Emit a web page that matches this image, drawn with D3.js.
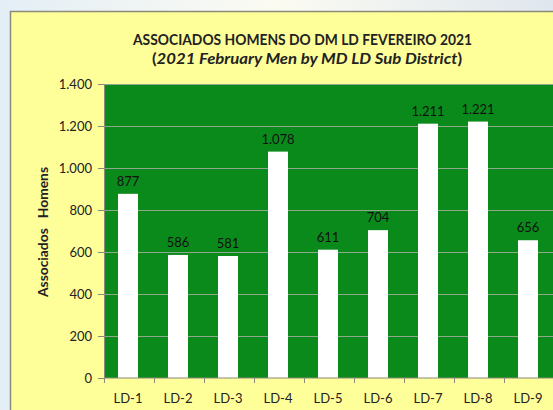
<!DOCTYPE html>
<html>
<head>
<meta charset="utf-8">
<script src="https://cdn.jsdelivr.net/npm/d3@7"></script>
<style>
  html, body { margin: 0; padding: 0; background: #eef3f6; }
  svg { display: block; }
</style>
</head>
<body>
<svg id="chart" width="553" height="410"></svg>
<script>
/*
Data
*/
const categories = ["LD-1", "LD-2", "LD-3", "LD-4", "LD-5", "LD-6", "LD-7", "LD-8", "LD-9"];
const members    = [877, 586, 581, 1078, 611, 704, 1211, 1221, 656];
const yTicks     = [0, 200, 400, 600, 800, 1000, 1200, 1400];

const width  = 553;
const height = 410;
const margin = { top: 84, right: -1, bottom: 32, left: 104 };

const fontFam = "Lato, 'Open Sans', sans-serif";
const fmt = d => d3.format(",")(d).replace(/,/g, ".");

const svg = d3.select("#chart")
  .attr("viewBox", "0 0 " + width + " " + height);

// backdrop behind the chart frame
const bg = svg.append("defs").append("linearGradient")
  .attr("id", "bg").attr("x1", 0).attr("x2", 1).attr("y1", 0).attr("y2", 0);
bg.append("stop").attr("offset", "0%").attr("stop-color", "#e4eef6");
bg.append("stop").attr("offset", "50%").attr("stop-color", "#fbfbf2");
bg.append("stop").attr("offset", "100%").attr("stop-color", "#dfe6ee");
svg.append("rect").attr("width", width).attr("height", height).attr("fill", "url(#bg)");

// chart frame
svg.append("rect")
  .attr("x", 10.5).attr("y", 11.5)
  .attr("width", width + 10).attr("height", height + 10)
  .attr("fill", "#ffff99")
  .attr("stroke", "#8a8a7a")
  .attr("stroke-width", 1.5);

const x = d3.scaleBand()
  .domain(categories)
  .range([margin.left, width - margin.right])
  .paddingInner(0.6)
  .paddingOuter(0.3);

const y = d3.scaleLinear()
  .domain([0, 1400])
  .range([height - margin.bottom, margin.top]);

// plot area
svg.append("rect")
  .attr("x", margin.left).attr("y", margin.top)
  .attr("width", width - margin.right - margin.left)
  .attr("height", y(0) - margin.top)
  .attr("fill", "#0b8a1c");

// grid
svg.append("g")
  .selectAll("line")
  .data(yTicks.filter(d => d > 0))
  .enter()
  .append("line")
  .attr("x1", margin.left).attr("x2", width)
  .attr("y1", d => Math.round(y(d)) + 0.5)
  .attr("y2", d => Math.round(y(d)) + 0.5)
  .attr("stroke", "#8fa88c")
  .attr("stroke-width", 1);

// bars
svg.append("g")
  .selectAll("rect")
  .data(members)
  .enter()
  .append("rect")
  .attr("x", (d, i) => x(categories[i]) - 1)
  .attr("y", d => y(d))
  .attr("width", x.bandwidth())
  .attr("height", d => y(0) - y(d))
  .attr("fill", "#ffffff");

// value labels
svg.append("g")
  .selectAll("text")
  .data(members)
  .enter()
  .append("text")
  .attr("x", (d, i) => x(categories[i]) - 1 + x.bandwidth() / 2)
  .attr("y", d => y(d) - 8)
  .attr("text-anchor", "middle")
  .attr("font-family", fontFam)
  .attr("font-size", 13)
  .attr("fill", "#111")
  .text(d => fmt(d));

// y axis
const yAxis = svg.append("g")
  .attr("transform", "translate(" + margin.left + ",0)")
  .call(d3.axisLeft(y).tickValues(yTicks).tickSize(6).tickPadding(6).tickFormat(fmt));
yAxis.select(".domain").attr("stroke", "#8a8a7a");
yAxis.selectAll(".tick line").attr("stroke", "#8a8a7a");
yAxis.selectAll("text")
  .attr("font-family", fontFam)
  .attr("font-size", 13)
  .attr("fill", "#222");

// x axis (ticks on band boundaries)
const xAxis = svg.append("g")
  .attr("transform", "translate(0," + y(0) + ")");
xAxis.append("line")
  .attr("x1", margin.left).attr("x2", width)
  .attr("stroke", "#8a8a7a");
const step = x.step();
xAxis.selectAll(".bt")
  .data(categories)
  .enter()
  .append("line")
  .attr("x1", (d, i) => margin.left + i * step + 0.5)
  .attr("x2", (d, i) => margin.left + i * step + 0.5)
  .attr("y1", 0).attr("y2", 5)
  .attr("stroke", "#8a8a7a");
xAxis.selectAll("text")
  .data(categories)
  .enter()
  .append("text")
  .attr("x", d => x(d) - 1 + x.bandwidth() / 2)
  .attr("y", 25)
  .attr("text-anchor", "middle")
  .attr("font-family", fontFam)
  .attr("font-size", 13)
  .attr("fill", "#222")
  .text(d => d);

// y title
svg.append("text")
  .attr("transform", "translate(48,232) rotate(-90)")
  .attr("text-anchor", "middle")
  .attr("font-family", fontFam)
  .attr("font-weight", "bold")
  .attr("font-size", 13)
  .attr("fill", "#222")
  .attr("xml:space", "preserve")
  .attr("textLength", 130)
  .attr("lengthAdjust", "spacingAndGlyphs")
  .text("Associados   Homens");

// title
svg.append("text")
  .attr("x", 302.5).attr("y", 45)
  .attr("text-anchor", "middle")
  .attr("font-family", fontFam)
  .attr("font-weight", "bold")
  .attr("font-size", 15)
  .attr("fill", "#222")
  .attr("textLength", 339)
  .attr("lengthAdjust", "spacingAndGlyphs")
  .text("ASSOCIADOS HOMENS DO DM LD FEVEREIRO 2021");

const sub = svg.append("text")
  .attr("x", 307).attr("y", 64)
  .attr("text-anchor", "middle")
  .attr("font-family", fontFam)
  .attr("font-weight", "bold")
  .attr("font-size", 15.5)
  .attr("fill", "#222")
  .attr("textLength", 310)
  .attr("lengthAdjust", "spacingAndGlyphs");
sub.append("tspan").text("(");
sub.append("tspan").attr("font-style", "italic").text("2021 February Men by MD LD Sub District");
sub.append("tspan").text(")");
</script>
</body>
</html>
